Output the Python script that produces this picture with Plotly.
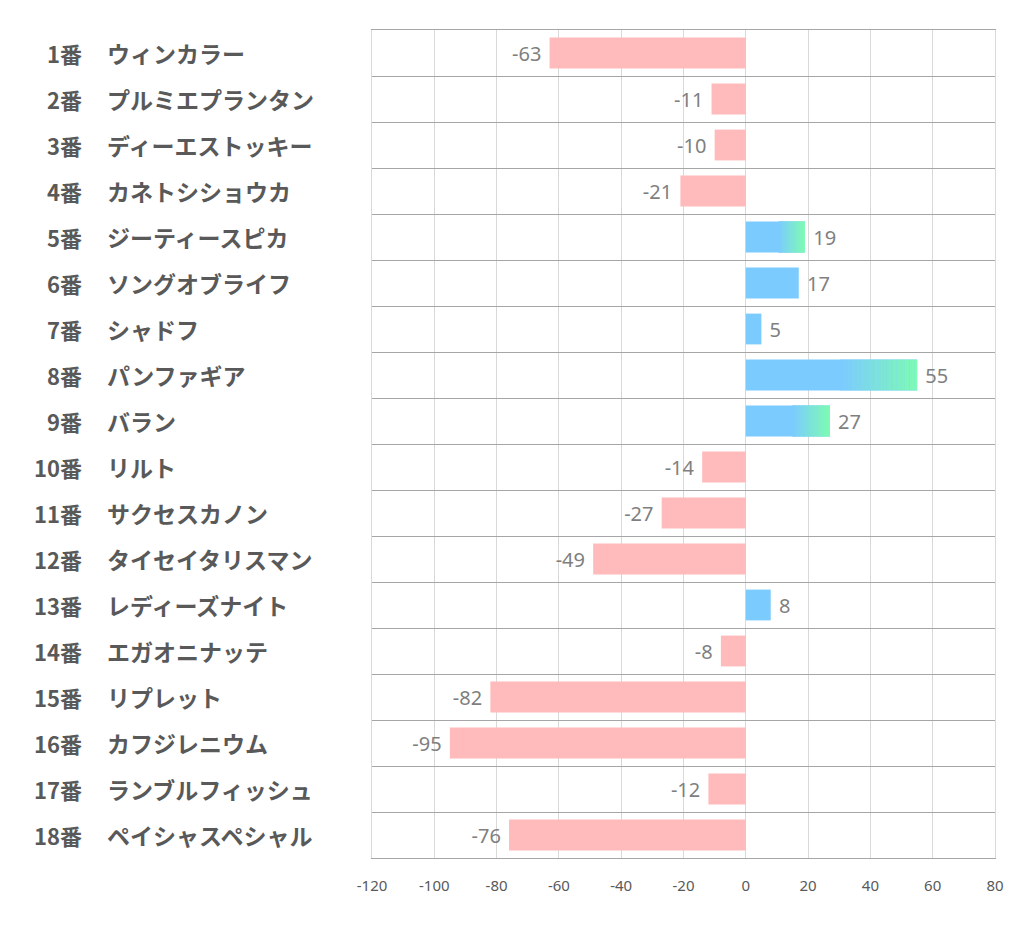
import plotly.graph_objects as go

numbers = [f"{i}番" for i in range(1, 19)]
names = ["ウィンカラー", "プルミエプランタン", "ディーエストッキー", "カネトシショウカ",
         "ジーティースピカ", "ソングオブライフ", "シャドフ", "パンファギア", "バラン",
         "リルト", "サクセスカノン", "タイセイタリスマン", "レディーズナイト",
         "エガオニナッテ", "リプレット", "カフジレニウム", "ランブルフィッシュ",
         "ペイシャスペシャル"]
values = [-63, -11, -10, -21, 19, 17, 5, 55, 27, -14, -27, -49, 8, -8, -82, -95, -12, -76]
gradient_rows = [5, 8, 9]
tick_values = [-120, -100, -80, -60, -40, -20, 0, 20, 40, 60, 80]
tick_labels = ["-120", "-100", "-80", "-60", "-40", "-20", "0", "20", "40", "60", "80"]

PINK = "#FFBBBB"
BLUE = (124, 203, 255)
GREEN = (125, 250, 180)

# page body has an 8px margin; figure size reduced accordingly
W, H = 1014, 931
L, R, T, B = 364, 27, 22, 81
pw = W - L - R

ypos = list(range(len(values)))
colors = [PINK if v < 0 else "rgb(%d,%d,%d)" % BLUE for v in values]
NB = "\u00a0"
labels = [(str(v) + NB) if v < 0 else (NB + str(v)) for v in values]

fig = go.Figure()
fig.add_trace(go.Bar(
    x=values, y=ypos, orientation="h", marker=dict(color=colors, line=dict(width=0)),
    text=labels, textposition="outside",
    textfont=dict(family="Noto Sans", size=20, color="#7F7F7F"),
    cliponaxis=False, width=0.67, hoverinfo="skip"))

# gradient overlay for highlighted rows
N = 30
start_frac = 0.55
for row in gradient_rows:
    i = row - 1
    v = values[i]
    s = v * start_frac
    seg = (v - s) / N
    xs, bases, cols = [], [], []
    for k in range(N):
        t = k / (N - 1)
        c = tuple(round(BLUE[j] + (GREEN[j] - BLUE[j]) * t) for j in range(3))
        xs.append(seg * 1.05)
        bases.append(s + k * seg)
        cols.append("rgb(%d,%d,%d)" % c)
    xs[-1] = seg
    fig.add_trace(go.Bar(
        x=xs, base=bases, y=[i] * N, orientation="h",
        marker=dict(color=cols, line=dict(width=0)), width=0.67, hoverinfo="skip"))

annotations = []
for i in range(len(values)):
    annotations.append(dict(
        x=(76 - L) / pw, xref="paper", y=i, yref="y", text=numbers[i],
        xanchor="right", yanchor="middle", showarrow=False,
        font=dict(family="Noto Sans CJK JP", size=22, color="#595959", weight="bold")))
    annotations.append(dict(
        x=(97 - L) / pw, xref="paper", y=i, yref="y", text=names[i],
        xanchor="left", yanchor="middle", showarrow=False,
        font=dict(family="Noto Sans CJK JP", size=23, color="#595959", weight="bold")))

fig.update_layout(
    width=W, height=H, margin=dict(l=L, r=R, t=T, b=B),
    paper_bgcolor="white", plot_bgcolor="white",
    barmode="overlay", showlegend=False, annotations=annotations,
    xaxis=dict(range=[-120, 80], tickvals=tick_values, ticktext=tick_labels,
               showgrid=True, gridcolor="#D9D9D9",
               gridwidth=1, zeroline=False, showline=True, mirror=True, linecolor="#A6A6A6",
               linewidth=1, ticks="", ticklabelstandoff=14,
               tickfont=dict(family="Noto Sans", size=15, color="#595959")),
    yaxis=dict(range=[len(values) - 0.5, -0.5], tick0=-0.5, dtick=1, showgrid=True,
               gridcolor="#A6A6A6", gridwidth=1, zeroline=False, showticklabels=False,
               ticks="", showline=True, mirror=True, linecolor="#D9D9D9"),
)

fig.write_html("out.html")
